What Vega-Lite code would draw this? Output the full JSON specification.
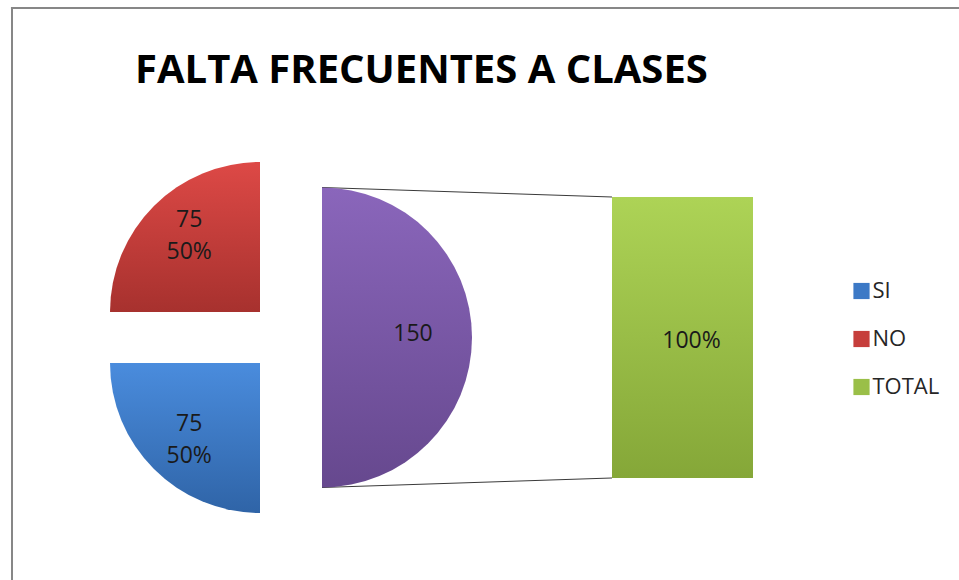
{
  "$schema": "https://vega.github.io/schema/vega-lite/v6.json",
  "width": 564,
  "height": 485,
  "autosize": {"type": "none"},
  "padding": {"left": 0, "top": 95, "right": 395, "bottom": 0},
  "background": "#ffffff",
  "title": {
    "text": "FALTA FRECUENTES A CLASES",
    "anchor": "start",
    "frame": "group",
    "orient": "top",
    "offset": -116,
    "baseline": "alphabetic",
    "dx": 135,
    "font": "Open Sans",
    "fontSize": 40,
    "fontWeight": "bold",
    "color": "#000000"
  },
  "data": {
    "values": [
      {"categoria": "SI", "cantidad": 75, "porcentaje": 0.5},
      {"categoria": "NO", "cantidad": 75, "porcentaje": 0.5},
      {"categoria": "TOTAL", "cantidad": 150, "porcentaje": 1}
    ]
  },
  "layer": [
    {
      "transform": [{"filter": {"field": "categoria", "equal": "TOTAL"}}],
      "mark": {"type": "rule", "color": "#878787", "strokeWidth": 2},
      "encoding": {
        "x": {"datum": -1.8, "type": "quantitative", "scale": {"domain": [-1.88, 1.88], "nice": false, "zero": false}, "axis": null},
        "y": {"datum": 1.6726, "type": "quantitative", "scale": {"domain": [-0.363, 1.363], "nice": false, "zero": false}, "axis": null},
        "y2": {"datum": -0.363}
      }
    },
    {
      "transform": [{"filter": {"field": "categoria", "equal": "TOTAL"}}],
      "mark": {"type": "rule", "color": "#878787", "strokeWidth": 2},
      "encoding": {
        "x": {"datum": -1.807, "type": "quantitative", "scale": {"domain": [-1.88, 1.88], "nice": false, "zero": false}, "axis": null},
        "x2": {"datum": 4.6},
        "y": {"datum": 1.6726, "type": "quantitative", "scale": {"domain": [-0.363, 1.363], "nice": false, "zero": false}, "axis": null}
      }
    },
    {
      "transform": [{"filter": {"field": "categoria", "equal": "TOTAL"}}],
      "mark": {"type": "rule", "color": "#3a3a3a", "strokeWidth": 1},
      "encoding": {
        "x": {"datum": 0.2667, "type": "quantitative", "scale": {"domain": [-1.88, 1.88], "nice": false, "zero": false}, "axis": null},
        "x2": {"datum": 2.2},
        "y": {"datum": 1.0338, "type": "quantitative", "scale": {"domain": [-0.363, 1.363], "nice": false, "zero": false}, "axis": null},
        "y2": {"datum": 1}
      }
    },
    {
      "transform": [{"filter": {"field": "categoria", "equal": "TOTAL"}}],
      "mark": {"type": "rule", "color": "#3a3a3a", "strokeWidth": 1},
      "encoding": {
        "x": {"datum": 0.2667, "type": "quantitative", "scale": {"domain": [-1.88, 1.88], "nice": false, "zero": false}, "axis": null},
        "x2": {"datum": 2.2},
        "y": {"datum": -0.0338, "type": "quantitative", "scale": {"domain": [-0.363, 1.363], "nice": false, "zero": false}, "axis": null},
        "y2": {"datum": 0}
      }
    },
    {
      "transform": [
        {"stack": "cantidad", "groupby": [], "sort": [{"field": "cantidad", "order": "descending"}, {"field": "categoria", "order": "descending"}], "as": ["t0", "t1"]},
        {"filter": {"field": "categoria", "equal": "TOTAL"}}
      ],
      "mark": {
        "type": "arc", "radius": 150, "xOffset": 40,
        "color": {"gradient": "linear", "x1": 0, "y1": 0, "x2": 0, "y2": 1, "stops": [{"offset": 0, "color": "#8A66BB"}, {"offset": 1, "color": "#66488E"}]}
      },
      "encoding": {
        "theta": {"field": "t0", "type": "quantitative", "stack": null},
        "theta2": {"field": "t1"}
      }
    },
    {
      "transform": [
        {"stack": "cantidad", "groupby": [], "sort": [{"field": "cantidad", "order": "descending"}, {"field": "categoria", "order": "descending"}], "as": ["t0", "t1"]},
        {"filter": {"field": "categoria", "equal": "SI"}}
      ],
      "mark": {
        "type": "arc", "radius": 150, "xOffset": -22, "yOffset": 25.5,
        "color": {"gradient": "linear", "x1": 0, "y1": 0, "x2": 0, "y2": 1, "stops": [{"offset": 0, "color": "#4A8CDD"}, {"offset": 1, "color": "#2F64A7"}]}
      },
      "encoding": {
        "theta": {"field": "t0", "type": "quantitative", "stack": null},
        "theta2": {"field": "t1"}
      }
    },
    {
      "transform": [
        {"stack": "cantidad", "groupby": [], "sort": [{"field": "cantidad", "order": "descending"}, {"field": "categoria", "order": "descending"}], "as": ["t0", "t1"]},
        {"filter": {"field": "categoria", "equal": "NO"}}
      ],
      "mark": {
        "type": "arc", "radius": 150, "xOffset": -22, "yOffset": -25.5,
        "color": {"gradient": "linear", "x1": 0, "y1": 0, "x2": 0, "y2": 1, "stops": [{"offset": 0, "color": "#DD4946"}, {"offset": 1, "color": "#A7312E"}]}
      },
      "encoding": {
        "theta": {"field": "t0", "type": "quantitative", "stack": null},
        "theta2": {"field": "t1"}
      }
    },
    {
      "transform": [{"filter": {"field": "categoria", "equal": "TOTAL"}}],
      "mark": {"type": "rect"},
      "encoding": {
        "x": {"datum": 2.2, "type": "quantitative", "scale": {"domain": [-1.88, 1.88], "nice": false, "zero": false}, "axis": null},
        "x2": {"datum": 3.14},
        "y": {"field": "porcentaje", "type": "quantitative", "scale": {"domain": [-0.363, 1.363], "nice": false, "zero": false}, "axis": null},
        "y2": {"datum": 0},
        "color": {
          "field": "categoria", "type": "nominal",
          "scale": {"domain": ["SI", "NO", "TOTAL"], "range": ["#3C79C6", "#C63E3B", "#9ABF48"]},
          "legend": {"orient": "none", "legendX": 850.5, "legendY": 185, "title": null, "symbolType": "square", "symbolSize": 262, "symbolStrokeWidth": 0, "labelFont": "Open Sans", "labelFontSize": 22, "labelColor": "#262626", "rowPadding": 26, "labelOffset": 0, "padding": 0}
        }
      }
    },
    {
      "transform": [{"filter": {"field": "categoria", "equal": "TOTAL"}}],
      "mark": {
        "type": "rect",
        "color": {"gradient": "linear", "x1": 0, "y1": 0, "x2": 0, "y2": 1, "stops": [{"offset": 0, "color": "#ADD356"}, {"offset": 1, "color": "#85A738"}]}
      },
      "encoding": {
        "x": {"datum": 2.2, "type": "quantitative", "scale": {"domain": [-1.88, 1.88], "nice": false, "zero": false}, "axis": null},
        "x2": {"datum": 3.14},
        "y": {"field": "porcentaje", "type": "quantitative", "scale": {"domain": [-0.363, 1.363], "nice": false, "zero": false}, "axis": null},
        "y2": {"datum": 0}
      }
    },
    {
      "mark": {"type": "text", "radius": 144, "xOffset": 9, "dy": -15.5, "fontSize": 23, "font": "Open Sans", "color": "#1a1a1a"},
      "encoding": {
        "theta": {"field": "cantidad", "type": "quantitative", "stack": true},
        "order": {"field": "cantidad", "type": "quantitative", "sort": "descending"},
        "text": {"condition": {"test": "datum.categoria === 'TOTAL'", "value": ""}, "field": "cantidad", "type": "quantitative"}
      }
    },
    {
      "mark": {"type": "text", "radius": 144, "xOffset": 9, "dy": 16.5, "fontSize": 23, "font": "Open Sans", "color": "#1a1a1a"},
      "encoding": {
        "theta": {"field": "cantidad", "type": "quantitative", "stack": true},
        "order": {"field": "cantidad", "type": "quantitative", "sort": "descending"},
        "text": {"condition": {"test": "datum.categoria === 'TOTAL'", "value": ""}, "field": "porcentaje", "type": "quantitative", "format": ".0%"}
      }
    },
    {
      "mark": {"type": "text", "radius": 131, "dy": -4, "fontSize": 23, "font": "Open Sans", "color": "#1a1a1a"},
      "encoding": {
        "theta": {"field": "cantidad", "type": "quantitative", "stack": true},
        "order": {"field": "cantidad", "type": "quantitative", "sort": "descending"},
        "text": {"condition": {"test": "datum.categoria !== 'TOTAL'", "value": ""}, "field": "cantidad", "type": "quantitative"}
      }
    },
    {
      "transform": [{"filter": {"field": "categoria", "equal": "TOTAL"}}],
      "mark": {"type": "text", "dx": 9, "dy": 3, "fontSize": 23, "font": "Open Sans", "color": "#1a1a1a"},
      "encoding": {
        "x": {"datum": 2.67, "type": "quantitative", "scale": {"domain": [-1.88, 1.88], "nice": false, "zero": false}, "axis": null},
        "y": {"datum": 0.5, "type": "quantitative", "scale": {"domain": [-0.363, 1.363], "nice": false, "zero": false}, "axis": null},
        "text": {"field": "porcentaje", "type": "quantitative", "format": ".0%"}
      }
    }
  ],
  "config": {
    "view": {"stroke": null},
    "font": "Open Sans"
  }
}
